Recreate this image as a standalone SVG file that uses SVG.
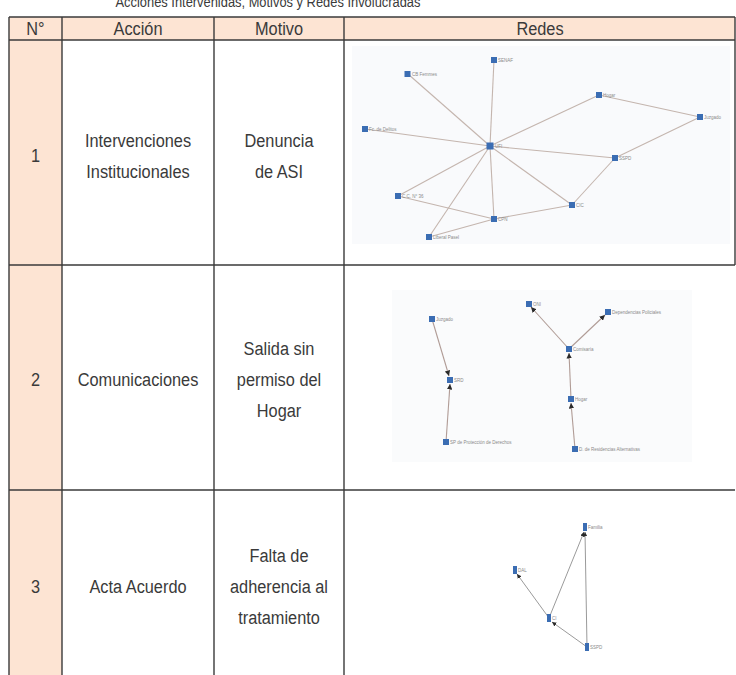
<svg xmlns="http://www.w3.org/2000/svg" width="736" height="675" viewBox="0 0 736 675">
<defs>
<style>
.t{font-family:"Liberation Sans",Arial,sans-serif;font-size:19px;fill:#3a3a3a;text-anchor:middle}
.grid{stroke:#3a3a3a;stroke-width:1.4;fill:none}
.e1{stroke:#c4b5ae;stroke-width:1.1;fill:none}
.e2{stroke:#b09c96;stroke-width:1.1;fill:none}
.e3{stroke:#8f8f8f;stroke-width:0.9;fill:none}
.n{fill:#3b6db3}
.l{font-family:"Liberation Sans",Arial,sans-serif;font-size:4.5px;fill:#8a8a8a}
</style>
<marker id="a" viewBox="0 0 6 6" refX="6" refY="3" markerWidth="5" markerHeight="5" orient="auto"><path d="M0,0 L6,3 L0,6 z" fill="#2a2a2a"/></marker>
</defs>
<rect width="736" height="675" fill="#ffffff"/>
<g transform="scale(0.86,1)">
<text class="t" x="311.6" y="6.5" style="font-size:15px">Acciones Intervenidas, Motivos y Redes Involucradas</text>
</g>

<g id="table">
<rect x="9" y="17" width="726" height="23" fill="#fde4d3"/>
<rect x="9" y="40" width="53" height="635" fill="#fde4d3"/>
<line class="grid" x1="9" y1="17" x2="735" y2="17"/>
<line class="grid" x1="9" y1="40" x2="735" y2="40"/>
<line class="grid" x1="9" y1="265" x2="735" y2="265"/>
<line class="grid" x1="9" y1="490" x2="735" y2="490"/>
<line class="grid" x1="9" y1="17" x2="9" y2="675"/>
<line class="grid" x1="62" y1="17" x2="62" y2="675"/>
<line class="grid" x1="214" y1="17" x2="214" y2="675"/>
<line class="grid" x1="344" y1="17" x2="344" y2="675"/>
<line class="grid" x1="735" y1="17" x2="735" y2="265"/>
</g>

<g id="header" transform="scale(0.86,1)">
<text class="t" x="41.28" y="35">N°</text>
<text class="t" x="160.47" y="35">Acción</text>
<text class="t" x="324.42" y="35">Motivo</text>
<text class="t" x="627.9" y="35">Redes</text>
</g>

<g id="row1" transform="scale(0.86,1)">
<text class="t" x="41.28" y="162">1</text>
<text class="t" x="160.47" y="147">Intervenciones</text>
<text class="t" x="160.47" y="178">Institucionales</text>
<text class="t" x="324.42" y="147">Denuncia</text>
<text class="t" x="324.42" y="178">de ASI</text>
</g>
<g id="row2" transform="scale(0.86,1)">
<text class="t" x="41.28" y="386">2</text>
<text class="t" x="160.47" y="386">Comunicaciones</text>
<text class="t" x="324.42" y="355">Salida sin</text>
<text class="t" x="324.42" y="386">permiso del</text>
<text class="t" x="324.42" y="417">Hogar</text>
</g>
<g id="row3" transform="scale(0.86,1)">
<text class="t" x="41.28" y="593">3</text>
<text class="t" x="160.47" y="593">Acta Acuerdo</text>
<text class="t" x="324.42" y="562">Falta de</text>
<text class="t" x="324.42" y="593">adherencia al</text>
<text class="t" x="324.42" y="624">tratamiento</text>
</g>

<rect x="352" y="46" width="378" height="198" fill="#f9fafc"/>
<rect x="392" y="290" width="300" height="172" fill="#fafbfc"/>

<g id="connectors">
<g class="e1">
<line x1="490" y1="146" x2="408" y2="74"/>
<line x1="490" y1="146" x2="494" y2="60"/>
<line x1="490" y1="146" x2="365" y2="129"/>
<line x1="490" y1="146" x2="599" y2="95"/>
<line x1="599" y1="95" x2="700" y2="117"/>
<line x1="700" y1="117" x2="615" y2="158"/>
<line x1="490" y1="146" x2="615" y2="158"/>
<line x1="490" y1="146" x2="572" y2="205"/>
<line x1="615" y1="158" x2="572" y2="205"/>
<line x1="572" y1="205" x2="494" y2="219"/>
<line x1="490" y1="146" x2="494" y2="219"/>
<line x1="490" y1="146" x2="398" y2="196"/>
<line x1="490" y1="146" x2="429" y2="237"/>
<line x1="398" y1="196" x2="494" y2="219"/>
<line x1="429" y1="237" x2="494" y2="219"/>
</g>
<g class="e2">
<line x1="432" y1="319" x2="449" y2="376" marker-end="url(#a)"/>
<line x1="446" y1="442" x2="450" y2="384" marker-end="url(#a)"/>
<line x1="569" y1="349" x2="531" y2="307" marker-end="url(#a)"/>
<line x1="569" y1="349" x2="605" y2="315" marker-end="url(#a)"/>
<line x1="571" y1="399" x2="569" y2="353" marker-end="url(#a)"/>
<line x1="575" y1="449" x2="571" y2="403" marker-end="url(#a)"/>
</g>
<g class="e3">
<line x1="549" y1="618" x2="584" y2="532" marker-end="url(#a)"/>
<line x1="549" y1="618" x2="517" y2="574" marker-end="url(#a)"/>
<line x1="587" y1="647" x2="552" y2="622" marker-end="url(#a)"/>
<line x1="587" y1="647" x2="585" y2="532" marker-end="url(#a)"/>
</g>
</g>

<g id="net1">
<g id="n1a"><rect class="n" x="404.5" y="71" width="6" height="6"/><text class="l" x="412" y="75.5">CB Femmes</text></g>
<g id="n1b"><rect class="n" x="491" y="57" width="6" height="6"/><text class="l" x="498" y="61.5">SENAF</text></g>
<g id="n1c"><rect class="n" x="362" y="126" width="6" height="6"/><text class="l" x="369" y="130.5">Fc. de Delitos</text></g>
<g id="n1d"><rect class="n" x="486.5" y="142.5" width="7" height="7"/><text class="l" x="495" y="148">UFI</text></g>
<g id="n1e"><rect class="n" x="596" y="92" width="6" height="6"/><text class="l" x="603" y="96.5">Hogar</text></g>
<g id="n1f"><rect class="n" x="697" y="114" width="6" height="6"/><text class="l" x="704" y="118.5">Juzgado</text></g>
<g id="n1g"><rect class="n" x="612" y="155" width="6" height="6"/><text class="l" x="619" y="159.5">SSPD</text></g>
<g id="n1h"><rect class="n" x="569" y="202" width="6" height="6"/><text class="l" x="576" y="206.5">CIC</text></g>
<g id="n1i"><rect class="n" x="491" y="216" width="6" height="6"/><text class="l" x="498" y="220.5">CPN</text></g>
<g id="n1j"><rect class="n" x="395" y="193" width="6" height="6"/><text class="l" x="402" y="197.5">C.C. N° 36</text></g>
<g id="n1k"><rect class="n" x="426" y="234" width="6" height="6"/><text class="l" x="433" y="238.5">Liberal Pasel</text></g>
</g>

<g id="net2">
<g id="n2a"><rect class="n" x="429" y="316" width="6" height="6"/><text class="l" x="436" y="320.5">Juzgado</text></g>
<g id="n2b"><rect class="n" x="447" y="377" width="6" height="6"/><text class="l" x="454" y="381.5">SRD</text></g>
<g id="n2c"><rect class="n" x="443" y="439" width="6" height="6"/><text class="l" x="450" y="443.5">SP de Protección de Derechos</text></g>
<g id="n2d"><rect class="n" x="526" y="301" width="6" height="6"/><text class="l" x="533" y="305.5">ONI</text></g>
<g id="n2e"><rect class="n" x="605" y="309" width="6" height="6"/><text class="l" x="612" y="313.5">Dependencias Policiales</text></g>
<g id="n2f"><rect class="n" x="566" y="346" width="6" height="6"/><text class="l" x="573" y="350.5">Comisaría</text></g>
<g id="n2g"><rect class="n" x="568" y="396" width="6" height="6"/><text class="l" x="575" y="400.5">Hogar</text></g>
<g id="n2h"><rect class="n" x="572" y="446" width="6" height="6"/><text class="l" x="579" y="450.5">D. de Residencias Alternativas</text></g>
</g>

<g id="net3">
<g id="n3a"><rect class="n" x="583" y="523" width="4" height="8"/><text class="l" x="588" y="529">Familia</text></g>
<g id="n3b"><rect class="n" x="513" y="566" width="4" height="8"/><text class="l" x="518" y="572">DAL</text></g>
<g id="n3c"><rect class="n" x="547" y="614" width="4" height="8"/><text class="l" x="552" y="620">CI</text></g>
<g id="n3d"><rect class="n" x="585" y="643" width="4" height="8"/><text class="l" x="590" y="649">SSPD</text></g>
</g>
</svg>
